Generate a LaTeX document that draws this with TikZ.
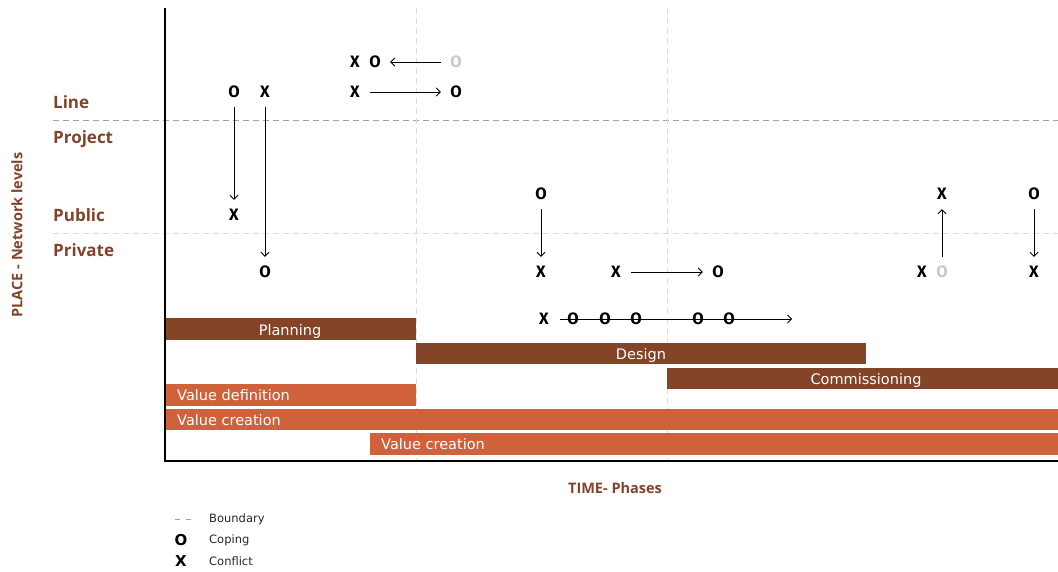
\documentclass[tikz,border=0pt]{standalone}
\usepackage{fontspec}
\setmainfont{DejaVu Sans}
\newfontfamily\labfont{Open Sans}
\newfontfamily\symfont{Fira Sans}
\usetikzlibrary{arrows.meta}
\definecolor{brn}{HTML}{83432A}
\definecolor{bardark}{HTML}{844427}
\definecolor{barorange}{HTML}{CF613B}
\definecolor{faint}{HTML}{C8C8C8}
\definecolor{bnd}{HTML}{A0A0A0}
\definecolor{bndlight}{HTML}{DADADA}
\begin{document}
\begin{tikzpicture}[x=1pt,y=-1pt,
  sym/.style={font=\symfont\bfseries\fontsize{16.5}{16.5}\selectfont, inner sep=0pt, minimum height=12pt, minimum width=12pt},
  gsym/.style={sym, text=faint},
  arr/.style={-{Straight Barb[length=4pt,width=8pt]}, line width=0.8pt, shorten <=9pt, shorten >=9pt},
  level/.style={font=\labfont\bfseries\fontsize{17}{17}\selectfont, text=brn, anchor=base west, inner sep=0pt},
  axislabel/.style={font=\labfont\bfseries\fontsize{14.5}{14.5}\selectfont, text=brn, inner sep=0pt},
  bartext/.style={font=\fontsize{14.5}{14.5}\selectfont, text=white, inner sep=0pt, anchor=base},
  darkbar/.style={fill=bardark},
  orangebar/.style={fill=barorange},
  boundary/.style={draw=bnd, dash pattern=on 6pt off 4pt, line width=0.8pt},
  lightboundary/.style={draw=bndlight, dash pattern=on 6pt off 4pt, line width=0.8pt},
  legtext/.style={font=\fontsize{11.5}{11.5}\selectfont, text=black!85, anchor=west, inner sep=0pt},
  legsym/.style={font=\bfseries\fontsize{15}{15}\selectfont, inner sep=0pt}
]
\useasboundingbox (0,0) rectangle (1058,571);

% boundaries
\draw[boundary] (53,120) -- (1058,120);
\draw[lightboundary] (53,233) -- (1058,233);
\draw[lightboundary] (416,8) -- (416,460);
\draw[lightboundary] (667,8) -- (667,460);

% bars
\fill[darkbar] (165,318) rectangle (416,340);
\node[bartext] (planning) at (290,335.5) {Planning};
\fill[darkbar] (416,343) rectangle (866,364);
\node[bartext] (design) at (641,359.5) {Design};
\fill[darkbar] (667,368) rectangle (1058,389);
\node[bartext] (commissioning) at (866,384.5) {Commissioning};
\fill[orangebar] (165,384) rectangle (416,406);
\node[bartext, anchor=base west] (valdef) at (177,400.5) {Value definition};
\fill[orangebar] (165,409) rectangle (1058,430);
\node[bartext, anchor=base west] (valcre1) at (177,425.5) {Value creation};
\fill[orangebar] (370,433) rectangle (1058,455);
\node[bartext, anchor=base west] (valcre2) at (381,449.5) {Value creation};

% axes
\draw[line width=2pt] (165,8) -- (165,461) -- (1058,461);

% level labels
\node[level] (line) at (53,108) {Line};
\node[level] (project) at (53,143) {Project};
\node[level] (public) at (53,221) {Public};
\node[level] (private) at (53,256) {Private};
\node[axislabel, rotate=90] (place) at (17,235) {PLACE - Network levels};
\node[axislabel] (time) at (615,488) {TIME- Phases};

% symbols - top group
\node[sym] (xa) at (355,62) {X};
\node[sym] (oa) at (375,62) {O};
\node[gsym] (ga) at (456,62) {O};
\draw[arr] (ga) -- (oa);
\node[sym] (xb) at (355,92) {X};
\node[sym] (ob) at (456,92) {O};
\draw[arr] (xb) -- (ob);

\node[sym] (oc) at (234,92) {O};
\node[sym] (xc) at (265,92) {X};
\node[sym] (xd) at (234,215) {X};
\node[sym] (od) at (265,272) {O};
\draw[arr] (oc) -- (xd);
\draw[arr] (xc) -- (od);

% middle group
\node[sym] (oe) at (541,194) {O};
\node[sym] (xe) at (541,272) {X};
\draw[arr] (oe) -- (xe);
\node[sym] (xf) at (616,272) {X};
\node[sym] (of) at (718,272) {O};
\draw[arr] (xf) -- (of);

% right group
\node[sym] (xg) at (922,272) {X};
\node[gsym] (gg) at (942,272) {O};
\node[sym] (xh) at (942,194) {X};
\draw[arr] (gg) -- (xh);
\node[sym] (oi) at (1034,194) {O};
\node[sym] (xi) at (1034,272) {X};
\draw[arr] (oi) -- (xi);

% sequence line
\node[sym] (xs) at (544,319) {X};
\coordinate (send) at (792,319);
\draw[arr, shorten >=0pt, shorten <=10pt] (xs) -- (send);
\node[sym] (s1) at (573,319) {O};
\node[sym] (s2) at (605,319) {O};
\node[sym] (s3) at (636,319) {O};
\node[sym] (s4) at (698,319) {O};
\node[sym] (s5) at (729,319) {O};

% legend
\coordinate (la) at (175,519);
\coordinate (lb) at (191,519);
\draw[draw=bnd, dash pattern=on 5pt off 6pt, line width=0.7pt] (la) -- (lb);
\node[legtext] (lboundary) at (209,519) {Boundary};
\node[legsym] (lo) at (181,540) {O};
\node[legtext] (lcoping) at (209,540) {Coping};
\node[legsym] (lx) at (181,561) {X};
\node[legtext] (lconflict) at (209,561) {Conflict};
\end{tikzpicture}
\end{document}
